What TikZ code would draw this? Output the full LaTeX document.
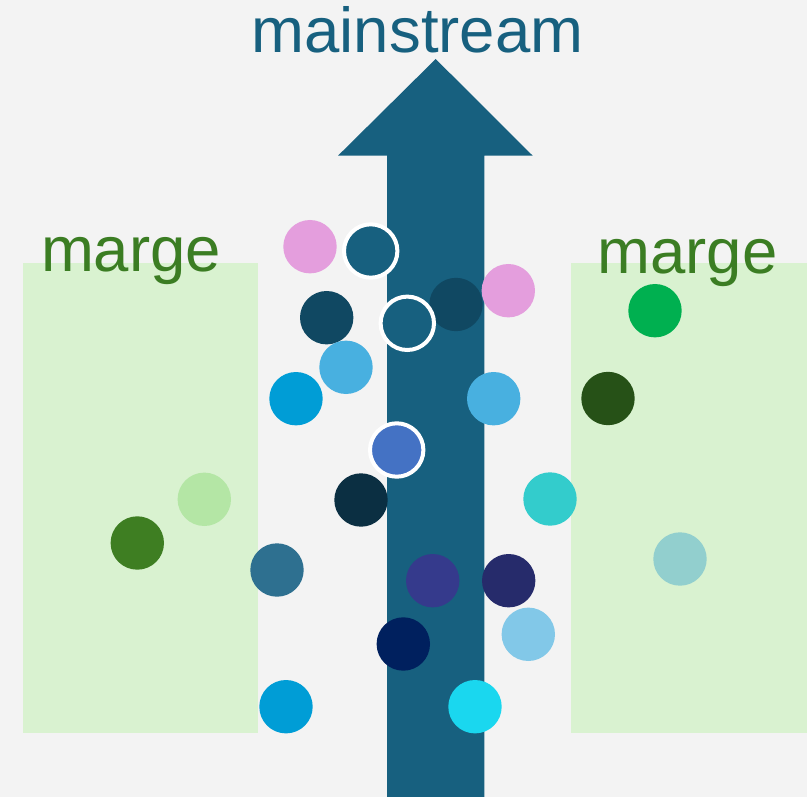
\documentclass[tikz,border=0pt]{standalone}
\usepackage{fontspec}
\setmainfont{Liberation Sans}
\definecolor{bgc}{HTML}{F3F3F3}
\definecolor{margefill}{HTML}{D9F2D0}
\definecolor{margetext}{HTML}{3B7D23}
\definecolor{stream}{HTML}{17607F}
\definecolor{cpink}{HTML}{E49EDD}
\definecolor{cdteal}{HTML}{104862}
\definecolor{clblue}{HTML}{48B0E0}
\definecolor{cblue}{HTML}{009DD6}
\definecolor{croyal}{HTML}{4472C4}
\definecolor{cvdark}{HTML}{0B2F42}
\definecolor{cturq}{HTML}{33CCCC}
\definecolor{csteel}{HTML}{2E7090}
\definecolor{cindigo}{HTML}{353A8C}
\definecolor{cdnavy}{HTML}{262B6B}
\definecolor{csky}{HTML}{82C8E8}
\definecolor{cnavy}{HTML}{00205E}
\definecolor{ccyan}{HTML}{1AD7EF}
\definecolor{cgreen}{HTML}{00B050}
\definecolor{cdgreen}{HTML}{265117}
\definecolor{clgreen}{HTML}{B4E6A5}
\definecolor{cmgreen}{HTML}{3E7E22}
\definecolor{cpale}{HTML}{92CFCE}
\tikzset{
  dot/.style={circle, minimum size=53.4pt, inner sep=0pt, fill=#1},
  ring/.style={dot=#1, draw=white, line width=4pt},
  bigtext/.style={anchor=base, inner sep=0pt, font=\fontsize{63.5}{76}\selectfont},
  margebox/.style={fill=margefill}
}
\begin{document}
\begin{tikzpicture}[x=1pt,y=-1pt]
\fill[bgc] (0,0) rectangle (807,797);
\useasboundingbox (0,0) rectangle (807,797);
% margins
\fill[margebox] (23,263.5) rectangle (258,733);
\fill[margebox] (571,263.5) rectangle (807,733);
\node[bigtext, text=margetext] (ml) at (131,272) {marge};
\node[bigtext, text=margetext] (mr) at (687.5,273) {marge};
\node[bigtext, text=stream] (ms) at (417.5,53) {mainstream};
% arrow
\fill[stream] (387,797) -- (387,155.7) -- (338,155.7) -- (435.7,59) -- (532.7,155.7) -- (484.3,155.7) -- (484.3,797) -- cycle;
% circles
\node[dot=cpink] (c1) at (310,246.7) {};
\node[dot=cdteal] (c2) at (326.7,317.7) {};
\node[dot=cdteal] (c3) at (456,304.5) {};
\node[dot=cpink] (c4) at (508.3,290.7) {};
\node[dot=clblue] (c5) at (346,367.3) {};
\node[dot=cblue] (c6) at (296,398.7) {};
\node[dot=clblue] (c7) at (493.7,398.7) {};
\node[dot=cvdark] (c8) at (361,500) {};
\node[dot=cturq] (c9) at (550,499) {};
\node[dot=csteel] (c10) at (277,570) {};
\node[dot=cindigo] (c11) at (432.7,580.7) {};
\node[dot=cdnavy] (c12) at (508.7,580.7) {};
\node[dot=csky] (c13) at (528.3,634.3) {};
\node[dot=cnavy] (c14) at (403.3,644) {};
\node[dot=cblue] (c15) at (286,706.7) {};
\node[dot=ccyan] (c16) at (475,706.7) {};
\node[dot=cgreen] (c17) at (655,310.7) {};
\node[dot=cdgreen] (c18) at (608,398.5) {};
\node[dot=clgreen] (c19) at (204.3,499.3) {};
\node[dot=cmgreen] (c20) at (137.3,543) {};
\node[dot=cpale] (c21) at (680,559) {};
\node[ring=stream] (r1) at (370.7,251) {};
\node[ring=stream] (r2) at (407.3,323.3) {};
\node[ring=croyal] (r3) at (396.7,450) {};
\end{tikzpicture}
\end{document}
